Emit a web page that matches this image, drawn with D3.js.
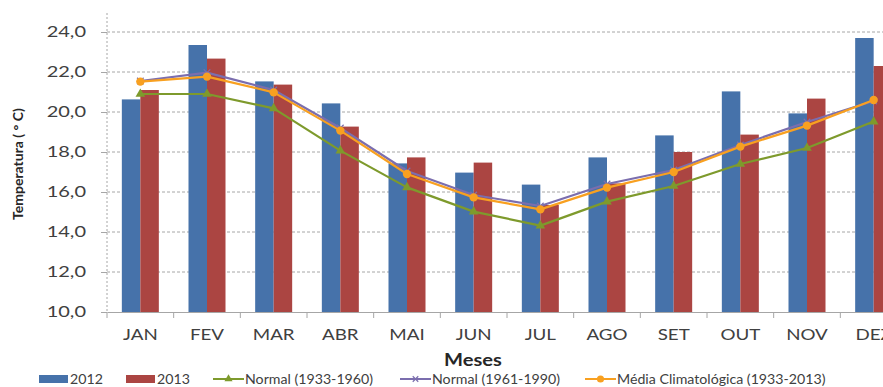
<!DOCTYPE html>
<html>
<head>
<meta charset="utf-8">
<script src="https://cdn.jsdelivr.net/npm/d3@7"></script>
<style>
  html, body { margin: 0; padding: 0; background: #fff; }
  svg { display: block; font-family: Lato, "Open Sans", sans-serif; }
</style>
</head>
<body>
<svg id="chart" width="883" height="387"></svg>
<script>
// Monthly mean temperature (°C)
const months = ["JAN","FEV","MAR","ABR","MAI","JUN","JUL","AGO","SET","OUT","NOV","DEZ"];
const t2012 = [20.63, 23.35, 21.53, 20.43, 17.43, 16.97, 16.37, 17.73, 18.83, 21.03, 19.93, 23.70];
const t2013 = [21.10, 22.67, 21.37, 19.27, 17.73, 17.47, 15.35, 16.43, 18.00, 18.87, 20.67, 22.30];
const normal1933 = [20.90, 20.90, 20.18, 18.07, 16.23, 15.02, 14.32, 15.52, 16.30, 17.40, 18.20, 19.52];
const normal1961 = [21.55, 21.97, 21.10, 19.20, 17.05, 15.85, 15.30, 16.40, 17.10, 18.35, 19.50, 20.55];
const mediaClim = [21.52, 21.77, 20.98, 19.07, 16.90, 15.73, 15.13, 16.22, 17.00, 18.27, 19.32, 20.60];
const yTicks = [10, 12, 14, 16, 18, 20, 22, 24];

const barSeries = [
  { name: "2012", values: t2012, color: "#4672AA" },
  { name: "2013", values: t2013, color: "#AB4542" }
];
const lineSeries = [
  { name: "Normal (1933-1960)", values: normal1933, color: "#7E9A2C", marker: "triangle" },
  { name: "Normal (1961-1990)", values: normal1961, color: "#7B6EAE", marker: "cross" },
  { name: "Média Climatológica (1933-2013)", values: mediaClim, color: "#F8A020", marker: "circle" }
];

const svg = d3.select("#chart");
const plotLeft = 107, plotRight = 907, plotTop = 32, plotBottom = 312;

const y = d3.scaleLinear().domain([10, 24]).range([plotBottom, plotTop]);
const x0 = d3.scaleBand().domain(months).range([plotLeft, plotRight]).paddingInner(0.445).paddingOuter(0.2225);
const x1 = d3.scaleBand().domain(barSeries.map(s => s.name)).range([0, x0.bandwidth()]);
const cx = m => x0(m) + x0.bandwidth() / 2;

const textColor = "#404040";
const gridColor = "#a6a6a6";

// widen glyphs horizontally by a factor, keeping the anchor
function widen(sel, factor) {
  sel.each(function () {
    const w = this.getComputedTextLength();
    d3.select(this).attr("textLength", w * factor).attr("lengthAdjust", "spacingAndGlyphs");
  });
}

// horizontal gridlines
svg.append("g").selectAll("line")
  .data(yTicks.filter(v => v > 10))
  .join("line")
  .attr("x1", plotLeft).attr("x2", plotRight)
  .attr("y1", d => y(d)).attr("y2", d => y(d))
  .attr("stroke", gridColor).attr("stroke-width", 1)
  .attr("stroke-dasharray", "3,2");

// y axis
const yAxis = d3.axisLeft(y).tickValues(yTicks).tickSize(6)
  .tickFormat(d => d3.format(".1f")(d).replace(".", ","));
const gy = svg.append("g").attr("transform", `translate(${plotLeft},0)`).call(yAxis);
gy.select(".domain").attr("stroke", gridColor).attr("stroke-dasharray", "2,2")
  .attr("d", `M0,13V${plotBottom}`);
gy.selectAll(".tick line").attr("stroke", gridColor);
gy.selectAll(".tick text")
  .attr("x", -21).attr("fill", textColor)
  .style("font-size", "14.5px").style("font-family", "Lato, sans-serif");
widen(gy.selectAll(".tick text"), 1.38);

// bars
const groups = svg.append("g").selectAll("g")
  .data(months)
  .join("g")
  .attr("transform", m => `translate(${x0(m)},0)`);
groups.selectAll("rect")
  .data((m, i) => barSeries.map(s => ({ s, v: s.values[i] })))
  .join("rect")
  .attr("x", d => x1(d.s.name))
  .attr("width", x1.bandwidth())
  .attr("y", d => y(d.v))
  .attr("height", d => y(10) - y(d.v))
  .attr("fill", d => d.s.color);

// x axis
const xAxis = d3.axisBottom(x0).tickSize(0).tickPadding(17);
const gx = svg.append("g").attr("transform", `translate(0,${plotBottom})`).call(xAxis);
gx.select(".domain").attr("stroke", gridColor).attr("stroke-width", 1.2);
gx.selectAll(".tick text").attr("fill", textColor)
  .style("font-size", "15px").style("font-family", "Lato, sans-serif");
widen(gx.selectAll(".tick text"), 1.25);
// tick marks between categories
const step = x0.step();
svg.append("g").selectAll("line")
  .data(d3.range(months.length + 1))
  .join("line")
  .attr("x1", i => plotLeft + i * step).attr("x2", i => plotLeft + i * step)
  .attr("y1", plotBottom).attr("y2", plotBottom + 6)
  .attr("stroke", gridColor);

// line series
const line = d3.line().x((v, i) => cx(months[i])).y(v => y(v));

function drawMarker(g, s, px, py, scale) {
  if (s.marker === "circle") {
    g.append("circle").attr("cx", px).attr("cy", py).attr("r", 4.2 * scale).attr("fill", s.color);
  } else if (s.marker === "triangle") {
    g.append("path").attr("d", d3.symbol().type(d3.symbolTriangle).size(40 * scale * scale)())
      .attr("transform", `translate(${px},${py})`).attr("fill", s.color);
  } else {
    g.append("path").attr("d", d3.symbol().type(d3.symbolX).size(30 * scale * scale)())
      .attr("transform", `translate(${px},${py})`)
      .attr("fill", "none").attr("stroke", s.color).attr("stroke-width", 1.2);
  }
}

lineSeries.forEach(s => {
  const g = svg.append("g");
  g.append("path").datum(s.values).attr("d", line)
    .attr("fill", "none").attr("stroke", s.color).attr("stroke-width", 2.2)
    .attr("stroke-linejoin", "round");
  s.values.forEach((v, i) => drawMarker(g, s, cx(months[i]), y(v), 1));
});

// axis titles
const xTitle = svg.append("text")
  .attr("x", 473).attr("y", 366)
  .attr("text-anchor", "middle")
  .attr("fill", "#262626")
  .style("font-size", "16.5px").style("font-weight", "bold")
  .style("font-family", "Lato, sans-serif")
  .text("Meses");
widen(xTitle, 1.22);

svg.append("text")
  .attr("transform", "translate(23,164) rotate(-90)")
  .attr("text-anchor", "middle")
  .attr("fill", "#262626")
  .style("font-size", "14px").style("font-weight", "bold")
  .style("font-family", "Lato, sans-serif")
  .text("Temperatura ( ° C)");

// legend
const legendY = 379;
const lg = svg.append("g").style("font-size", "13px").style("font-family", "Lato, sans-serif");
const barLegendX = [39, 126];
barSeries.forEach((s, i) => {
  lg.append("rect").attr("x", barLegendX[i]).attr("y", legendY - 4).attr("width", 29).attr("height", 8)
    .attr("fill", s.color);
  lg.append("text").attr("x", barLegendX[i] + 31).attr("y", legendY).attr("dy", "0.35em")
    .attr("fill", textColor).text(s.name);
});
const lineLegendX = [213, 400, 585];
lineSeries.forEach((s, i) => {
  const lx = lineLegendX[i];
  lg.append("line").attr("x1", lx).attr("x2", lx + 31).attr("y1", legendY).attr("y2", legendY)
    .attr("stroke", s.color).attr("stroke-width", 2);
  drawMarker(lg, s, lx + 15.5, legendY, 0.85);
  lg.append("text").attr("x", lx + 32).attr("y", legendY).attr("dy", "0.35em")
    .attr("fill", textColor).text(s.name);
});
widen(lg.selectAll("text"), 1.09);
</script>
</body>
</html>
